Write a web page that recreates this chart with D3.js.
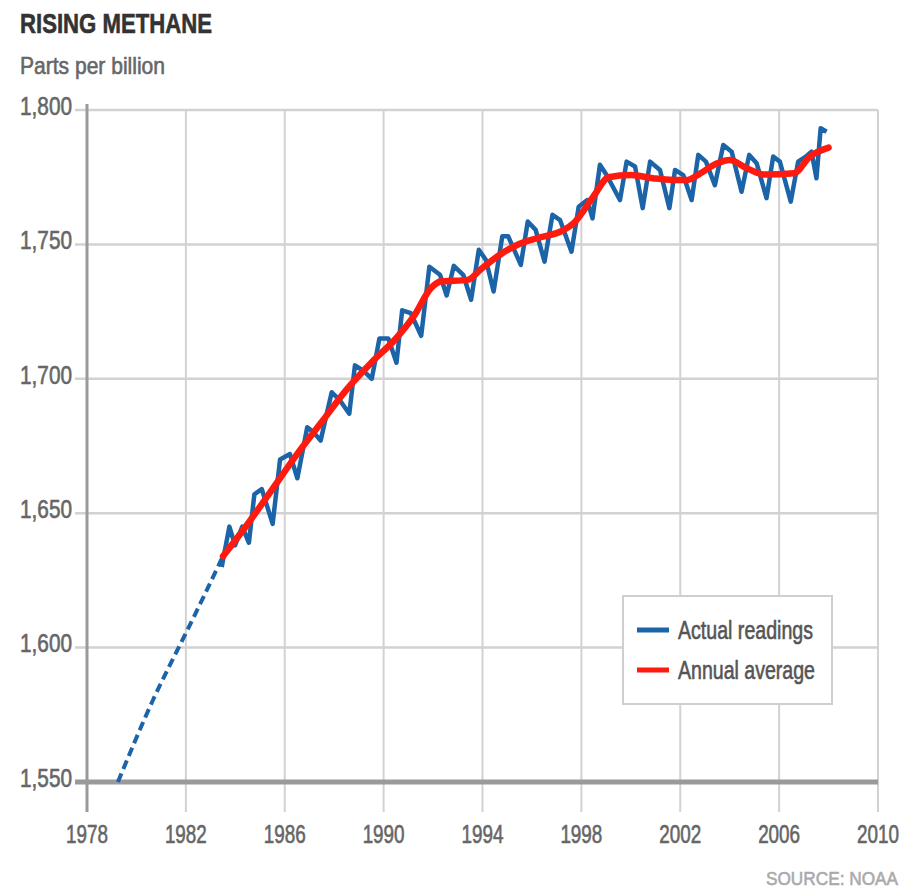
<!DOCTYPE html>
<html lang="en">
<head>
<meta charset="UTF-8">
<title>Rising methane</title>
<script src="https://cdn.jsdelivr.net/npm/d3@7"></script>
<style>
  body { margin: 0; background: #fff; }
  svg text { font-family: "Liberation Sans", Arial, sans-serif; }
  .heavy { stroke-width: 0.6px; paint-order: stroke; }
</style>
</head>
<body>
<svg id="chart" width="917" height="890"></svg>
<script>
// dashed early estimate (ppb)
const estYears = [1979.25, 1980.67, 1982.0, 1983.5];
const estValues = [1550, 1580.5, 1605.4, 1634];

// actual readings
const readYears = [1983.45, 1983.76, 1983.99, 1984.28, 1984.55, 1984.77, 1985.07, 1985.51, 1985.81, 1986.21,
  1986.51, 1986.91, 1987.18, 1987.45, 1987.9, 1988.23, 1988.61, 1988.84, 1989.18, 1989.52,
  1989.83, 1990.19, 1990.52, 1990.75, 1991.1, 1991.52, 1991.85, 1992.28, 1992.55, 1992.84,
  1993.22, 1993.54, 1993.85, 1994.14, 1994.45, 1994.8, 1995.04, 1995.55, 1995.83, 1996.15,
  1996.51, 1996.83, 1997.14, 1997.6, 1997.89, 1998.24, 1998.45, 1998.75, 1999.02, 1999.56,
  1999.83, 2000.17, 2000.48, 2000.78, 2001.18, 2001.56, 2001.79, 2002.12, 2002.46, 2002.73,
  2003.04, 2003.4, 2003.74, 2004.08, 2004.48, 2004.79, 2005.09, 2005.49, 2005.76, 2006.03,
  2006.47, 2006.77, 2007.09, 2007.31, 2007.51, 2007.68, 2007.92];
const readValues = [1630, 1645, 1638, 1645, 1639, 1657, 1659, 1646, 1670, 1672,
  1663, 1682, 1680, 1677, 1695, 1692, 1687, 1705, 1703, 1700,
  1715, 1715, 1706, 1725.5, 1724.4, 1716, 1741.7, 1738.7, 1731, 1742,
  1738.7, 1729.4, 1748, 1744.2, 1732.5, 1753, 1753, 1742.4, 1758.5, 1755.4,
  1743.6, 1761, 1759, 1747.3, 1764, 1766.5, 1759.7, 1779.6, 1775.8, 1766.5,
  1780.8, 1779, 1763.5, 1780.8, 1777.7, 1763.5, 1777.7, 1775.8, 1766.5, 1783.3,
  1780.8, 1772, 1787, 1784.5, 1769.6, 1783.3, 1780.2, 1767.2, 1782.7, 1780.8,
  1765.9, 1780.8, 1782.7, 1784.5, 1774.6, 1793.2, 1791.9];

// annual average
const avgYears = [1983.5, 1984.5, 1985.5, 1986.5, 1987.5, 1988.5, 1989.5, 1990.5, 1991.2, 1991.94,
  1992.3, 1993.4, 1993.9, 1994.6, 1995.4, 1996.2, 1997.3, 1997.7, 1998.5, 1999.1,
  2000.0, 2000.9, 2001.7, 2002.3, 2002.7, 2003.5, 2004.0, 2004.7, 2005.4, 2006.6,
  2007.25, 2008.0];
const avgValues = [1634, 1646, 1659, 1672, 1684, 1696, 1706, 1715, 1723, 1734,
  1736.2, 1736.8, 1740.5, 1745.5, 1749.8, 1752.3, 1755.4, 1758, 1768, 1775,
  1775.8, 1774.6, 1774, 1774, 1775.8, 1780.2, 1781.4, 1778.3, 1776, 1776.5,
  1782.7, 1786];

const xTicks = [1978, 1982, 1986, 1990, 1994, 1998, 2002, 2006, 2010];
const yTicks = [1550, 1600, 1650, 1700, 1750, 1800];
const legendLabels = ["Actual readings", "Annual average"];

const blue = "#1b64a8", red = "#ff1a0f";

const svg = d3.select("#chart");
const x = d3.scaleLinear().domain([1978, 2010]).range([87, 878]);
const y = d3.scaleLinear().domain([1550, 1800]).range([782, 110]);

// the original type is a condensed face, so squeeze text to its measured width
function squeeze(sel, w) {
  sel.attr("textLength", w).attr("lengthAdjust", "spacingAndGlyphs");
}
function heavy(sel, c) {
  sel.attr("class", "heavy").attr("fill", c).attr("stroke", c);
}

// title
svg.append("text").attr("x", 20).attr("y", 33)
  .attr("font-size", 28).attr("font-weight", "bold")
  .text("RISING METHANE").call(heavy, "#333").call(squeeze, 192);
svg.append("text").attr("x", 20).attr("y", 74)
  .attr("font-size", 24)
  .text("Parts per billion").call(heavy, "#666").call(squeeze, 145);

// vertical grid
svg.append("g").selectAll("line").data(xTicks.slice(1)).join("line")
  .attr("x1", d => x(d)).attr("x2", d => x(d))
  .attr("y1", y(1800)).attr("y2", 812)
  .attr("stroke", "#d2d2d2").attr("stroke-width", 2);

// horizontal grid
svg.append("g").selectAll("line").data(yTicks.slice(1)).join("line")
  .attr("x1", 75).attr("x2", x(2010))
  .attr("y1", d => y(d)).attr("y2", d => y(d))
  .attr("stroke", "#d2d2d2").attr("stroke-width", 2.5);

// left axis and baseline
svg.append("line").attr("x1", x(1978)).attr("x2", x(1978))
  .attr("y1", 104).attr("y2", 812)
  .attr("stroke", "#9a9a9a").attr("stroke-width", 3);
svg.append("line").attr("x1", 75).attr("x2", x(2010))
  .attr("y1", y(1550)).attr("y2", y(1550))
  .attr("stroke", "#9a9a9a").attr("stroke-width", 5);

// tick labels
const fmt = d3.format(",");
svg.append("g").selectAll("text").data(yTicks).join("text")
  .attr("x", 72).attr("y", d => y(d) - 4)
  .attr("dy", "0.35em").attr("text-anchor", "end")
  .attr("font-size", 25)
  .text(d => fmt(d)).call(heavy, "#666").call(squeeze, 52);
svg.append("g").selectAll("text").data(xTicks).join("text")
  .attr("x", d => x(d)).attr("y", 843)
  .attr("text-anchor", "middle")
  .attr("font-size", 25)
  .text(d => d).call(heavy, "#666").call(squeeze, 42);

// lines
const line = d3.line().x(d => x(d[0])).y(d => y(d[1]));

svg.append("path")
  .datum(d3.zip(estYears, estValues))
  .attr("d", line.curve(d3.curveNatural))
  .attr("fill", "none").attr("stroke", blue)
  .attr("stroke-width", 4).attr("stroke-dasharray", "9,5");

svg.append("path")
  .datum(d3.zip(readYears, readValues))
  .attr("d", line.curve(d3.curveLinear))
  .attr("fill", "none").attr("stroke", blue)
  .attr("stroke-width", 4.5).attr("stroke-linejoin", "round");

svg.append("path")
  .datum(d3.zip(avgYears, avgValues))
  .attr("d", line.curve(d3.curveMonotoneX))
  .attr("fill", "none").attr("stroke", red)
  .attr("stroke-width", 6.5).attr("stroke-linecap", "round");

// legend
const lg = svg.append("g");
lg.append("rect").attr("x", 623).attr("y", 596).attr("width", 209).attr("height", 108)
  .attr("fill", "#fff").attr("stroke", "#cfcfcf").attr("stroke-width", 2);
lg.selectAll("line").data(legendLabels).join("line")
  .attr("x1", 637).attr("x2", 669)
  .attr("y1", (d, i) => 630 + i * 40).attr("y2", (d, i) => 630 + i * 40)
  .attr("stroke", (d, i) => i ? red : blue).attr("stroke-width", 5);
lg.selectAll("text").data(legendLabels).join("text")
  .attr("x", 678).attr("y", (d, i) => 639 + i * 40)
  .attr("font-size", 25)
  .text(d => d)
  .each(function (d, i) { d3.select(this).call(heavy, "#555").call(squeeze, i ? 137 : 135); });

// source
svg.append("text").attr("x", 898).attr("y", 885)
  .attr("text-anchor", "end").attr("font-size", 19)
  .text("SOURCE: NOAA").call(heavy, "#aaa").call(squeeze, 132);
</script>
</body>
</html>
